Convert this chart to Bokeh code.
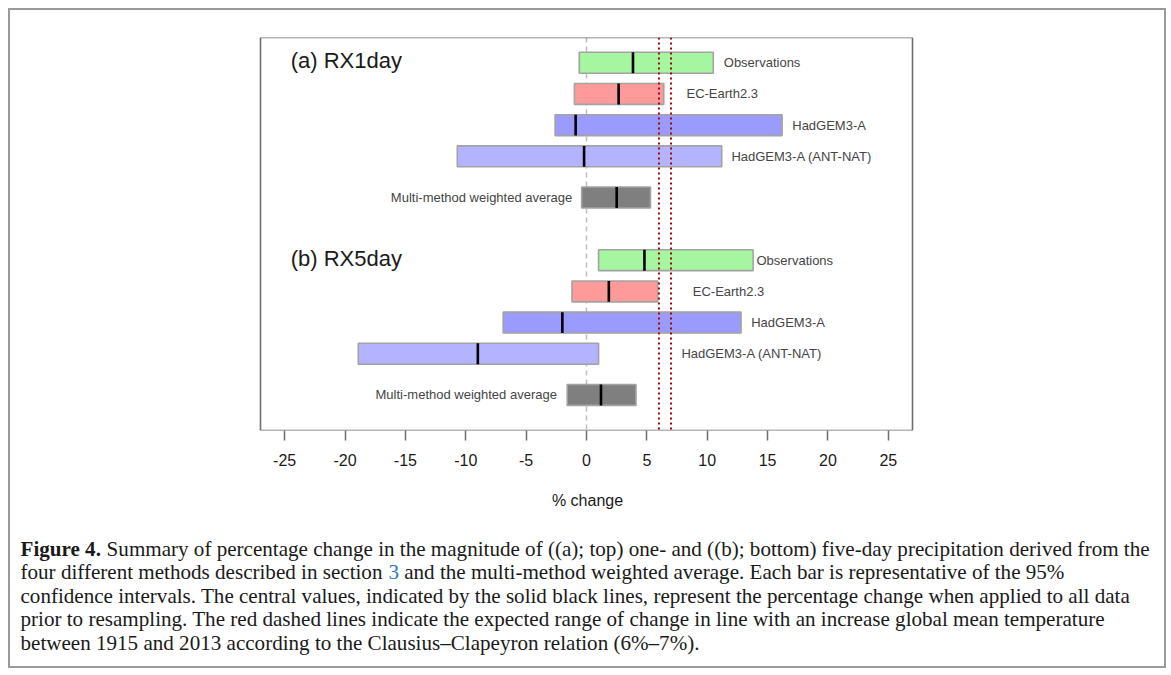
from bokeh.plotting import figure
from bokeh.layouts import column
from bokeh.models import Range1d, ColumnDataSource, Span, FixedTicker
from bokeh.core.properties import value
from bokeh.embed import file_html
from bokeh.resources import INLINE

# ---------------- data ----------------
methods = ["Observations", "EC-Earth2.3", "HadGEM3-A", "HadGEM3-A (ANT-NAT)",
           "Multi-method weighted average"]
panel_titles = ["(a) RX1day", "(b) RX5day"]

rx1_low = [-0.6, -1.0, -2.6, -10.7, -0.4]
rx1_high = [10.5, 6.4, 16.2, 11.2, 5.3]
rx1_best = [3.85, 2.66, -0.9, -0.2, 2.5]

rx5_low = [1.0, -1.2, -6.9, -18.9, -1.6]
rx5_high = [13.8, 5.9, 12.8, 1.0, 4.1]
rx5_best = [4.8, 1.85, -2.0, -9.0, 1.2]

cc_range = [6, 7]
x_ticks = [-25, -20, -15, -10, -5, 0, 5, 10, 15, 20, 25]

caption_lines = [
    ["Figure 4.", " Summary of percentage change in the magnitude of ((a); top) one- and ((b); bottom) five-day precipitation derived from the"],
    ["four different methods described in section ", "3", " and the multi-method weighted average. Each bar is representative of the 95%"],
    ["confidence intervals. The central values, indicated by the solid black lines, represent the percentage change when applied to all data"],
    ["prior to resampling. The red dashed lines indicate the expected range of change in line with an increase global mean temperature"],
    ["between 1915 and 2013 according to the Clausius\u2013Clapeyron relation (6%\u20137%)."],
]

# ---------------- styles / layout ----------------
fills = ["#a6f5a0", "#ff9a9a", "#9a9aff", "#b3b3ff", "#7f7f7f"]
row_pos = [0, 1, 2, 3, 4.32]
panel_offset = [0, 6.33]
bar_h = 0.67
label_x = [[11.37, 8.28, 17.04, 12.0, -1.18],
           [14.08, 8.8, 13.64, 7.86, -2.45]]
label_align = ["left", "left", "left", "left", "right"]
title_x = -24.5
title_dy = -0.07

INNER_W = 1154
CHART_H = 505
CAP_H = 151
SANS = "Liberation Sans"
SERIF = "Liberation Serif"

# plot box: data limits -27..27, drawn at pixels 250..902 of the 1154 px wide frame
box_x = (-27, 27)
box_y = (11.79, -0.81)
box_px = (250, 902)
ppu = (box_px[1] - box_px[0]) / (box_x[1] - box_x[0])
x_start = box_x[0] - box_px[0] / ppu
x_end = box_x[1] + (INNER_W - box_px[1]) / ppu

p = figure(frame_width=INNER_W, frame_height=393,
           min_border_left=0, min_border_right=0,
           min_border_top=27, min_border_bottom=CHART_H - 27 - 393,
           x_range=Range1d(x_start, x_end), y_range=Range1d(*box_y),
           y_axis_location=None, toolbar_location=None,
           output_backend="svg", background_fill_color="white",
           border_fill_color="white")
p.xgrid.visible = False
p.ygrid.visible = False
p.outline_line_color = None

# plot box
p.quad(left=[box_x[0]], right=[box_x[1]], bottom=[box_y[0]], top=[box_y[1]],
       fill_color=None, line_color="#6e6e6e", line_width=1.6)

# zero line (behind bars)
p.add_layout(Span(location=0, dimension="height", line_color="#bdbdbd",
                  line_dash="5 4", line_width=1.5, level="underlay"))

lows = [rx1_low, rx5_low]
highs = [rx1_high, rx5_high]
bests = [rx1_best, rx5_best]
for k in range(2):
    ys = [panel_offset[k] + r for r in row_pos]
    src = ColumnDataSource(dict(
        y=ys, low=lows[k], high=highs[k], best=bests[k],
        y0=[y - bar_h / 2 for y in ys], y1=[y + bar_h / 2 for y in ys],
        fill=fills, name=methods, lx=label_x[k], align=label_align))
    p.hbar(y="y", left="low", right="high", height=bar_h, fill_color="fill",
           line_color="#a3a3a3", line_width=1.6, source=src)
    p.segment(x0="best", y0="y0", x1="best", y1="y1", line_color="black",
              line_width=2.6, source=src)
    p.text(x="lx", y="y", text="name", text_align="align", text_baseline="middle",
           text_font=value(SANS), text_font_size="13px", text_color="#454545",
           source=src)
    p.text(x=[title_x], y=[panel_offset[k] + title_dy], text=[panel_titles[k]],
           text_align="left", text_baseline="middle", text_font=value(SANS),
           text_font_size="22px", text_color="#1a1a1a")

# Clausius-Clapeyron range
for c in cc_range:
    p.add_layout(Span(location=c, dimension="height", line_color="#9b0a0a",
                      line_dash="2 3", line_width=2))

ax = p.xaxis[0]
ax.ticker = FixedTicker(ticks=x_ticks)
ax.major_label_overrides = {t: str(t) for t in x_ticks}
ax.major_tick_out = 10
ax.major_tick_in = 0
ax.minor_tick_line_color = None
ax.axis_line_color = None
ax.major_tick_line_color = "#6e6e6e"
ax.major_tick_line_width = 1.5
ax.major_label_text_font = SANS
ax.major_label_text_font_size = "16px"
ax.major_label_text_color = "#1a1a1a"
ax.major_label_standoff = 13
ax.axis_label = "% change"
ax.axis_label_text_font = SANS
ax.axis_label_text_font_size = "16px"
ax.axis_label_text_font_style = "normal"
ax.axis_label_text_color = "#1a1a1a"
ax.axis_label_standoff = 23

# ---------------- caption ----------------
reg = {' ': 250, '%': 833, '(': 333, ')': 333, ',': 250, '-': 333, '.': 250,
       ';': 278, '\u2013': 500, 'A': 722, 'B': 667, 'C': 667, 'D': 722, 'E': 611,
       'F': 556, 'G': 722, 'H': 722, 'I': 333, 'S': 556, 'T': 611, 'a': 444,
       'b': 500, 'c': 444, 'd': 500, 'e': 444, 'f': 333, 'g': 500, 'h': 500,
       'i': 278, 'j': 278, 'k': 500, 'l': 278, 'm': 778, 'n': 500, 'o': 500,
       'p': 500, 'q': 500, 'r': 333, 's': 389, 't': 278, 'u': 500, 'v': 500,
       'w': 722, 'x': 500, 'y': 500, 'z': 444}
bold = {'F': 611, 'i': 278, 'g': 500, 'u': 556, 'r': 444, 'e': 444, ' ': 250,
        '4': 500, '.': 250}


def em(s, table):
    return sum(table.get(ch, 500) for ch in s) / 1000.0


cap = figure(width=INNER_W, height=CAP_H, x_range=Range1d(0, INNER_W),
             y_range=Range1d(CAP_H, 0), min_border=0,
             x_axis_location=None, y_axis_location=None,
             toolbar_location=None, output_backend="svg",
             background_fill_color="white", border_fill_color="white")
cap.xgrid.visible = False
cap.ygrid.visible = False
cap.outline_line_color = None

cap_x0 = 10
line1_target = 1130
fs = line1_target / (em(caption_lines[0][0], bold) + em(caption_lines[0][1], reg))
base0 = 33
lead = 23.5
for i, parts in enumerate(caption_lines):
    yb = base0 + i * lead
    x = cap_x0
    for j, part in enumerate(parts):
        is_bold = (i == 0 and j == 0)
        is_link = (i == 1 and j == 1)
        table = bold if is_bold else reg
        lead_sp = len(part) - len(part.lstrip(" "))
        x += em(" " * lead_sp, table) * fs
        shown = part.strip(" ")
        cap.text(x=[x], y=[yb], text=[shown], text_font=value(SERIF),
                 text_font_size=f"{fs:.2f}px",
                 text_font_style="bold" if is_bold else "normal",
                 text_color="#2b7bbd" if is_link else "#1a1a1a",
                 text_baseline="alphabetic", text_align="left")
        x += em(part.lstrip(" "), table) * fs

layout = column(p, cap, spacing=0,
                styles={"border": "2px solid #9a9a9a", "margin": "8px"})

open("out.html", "w").write(file_html(layout, INLINE))
